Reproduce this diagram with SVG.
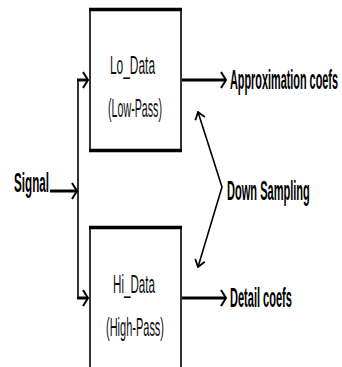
<svg xmlns="http://www.w3.org/2000/svg" width="342" height="367" viewBox="0 0 342 367">
  <style>
    .edge-v { stroke: #000; stroke-width: 1.6; fill: none; }
    .edge-h { stroke: #000; stroke-width: 3.5; fill: none; }
    .wire { stroke: #000; stroke-width: 3; fill: none; }
    .thin { stroke: #000; stroke-width: 1.6; fill: none; }
    .box-label { font-family: "Liberation Sans", Arial, sans-serif; font-size: 26px; fill: #111; }
    .tag { font-family: "Liberation Sans", Arial, sans-serif; font-size: 28px; font-weight: bold; fill: #000; }
  </style>
  <defs>
    <!-- tall, narrow open arrowhead -->
    <marker id="chev" viewBox="0 0 10 18" refX="8.5" refY="9" markerWidth="10" markerHeight="18" markerUnits="userSpaceOnUse" orient="auto-start-reverse">
      <path d="M3.5,1 L8.5,9 L3.5,17" fill="none" stroke="#000" stroke-width="2"/>
    </marker>
    <marker id="chev-sm" viewBox="0 0 10 12" refX="9" refY="6" markerWidth="10" markerHeight="12" markerUnits="userSpaceOnUse" orient="auto-start-reverse">
      <path d="M2,1 L9,6 L2,11" fill="none" stroke="#000" stroke-width="1.8"/>
    </marker>
  </defs>
  <rect width="342" height="367" fill="#fff"/>

  <!-- Low-pass filter block (labels set in a condensed width) -->
  <g id="lo-data">
    <line class="edge-v" x1="90" y1="9" x2="90" y2="151"/>
    <line class="edge-v" x1="181" y1="9" x2="181" y2="151"/>
    <line class="edge-h" x1="89" y1="9.5" x2="182" y2="9.5"/>
    <line class="edge-h" x1="89" y1="150.5" x2="182" y2="150.5"/>
    <text class="box-label" transform="translate(110,74) scale(0.458,1)">Lo_Data</text>
    <text class="box-label" transform="translate(108,117) scale(0.411,1)">(Low-Pass)</text>
  </g>

  <!-- High-pass filter block -->
  <g id="hi-data">
    <line class="edge-v" x1="90" y1="227" x2="90" y2="367"/>
    <line class="edge-v" x1="181" y1="227" x2="181" y2="367"/>
    <line class="edge-h" x1="89" y1="227.5" x2="182" y2="227.5"/>
    <text class="box-label" transform="translate(113,293) scale(0.447,1)">Hi_Data</text>
    <text class="box-label" transform="translate(106,336) scale(0.423,1)">(High-Pass)</text>
  </g>

  <g id="signal">
    <text class="tag" transform="translate(14,192) scale(0.417,1)">Signal</text>
  </g>

  <g id="approx">
    <text class="tag" transform="translate(230,89) scale(0.388,1)">Approximation coefs</text>
  </g>

  <g id="detail">
    <text class="tag" transform="translate(230,307) scale(0.394,1)">Detail coefs</text>
  </g>

  <g id="down-sampling">
    <text class="tag" transform="translate(227,200) scale(0.395,1)">Down Sampling</text>
  </g>

  <!-- Connectors -->
  <g id="connectors">
    <line class="wire" x1="50" y1="191" x2="77" y2="191" marker-end="url(#chev)"/>
    <line class="thin" x1="78" y1="80" x2="78" y2="298"/>
    <line class="wire" x1="77" y1="80" x2="88" y2="80" marker-end="url(#chev)"/>
    <line class="wire" x1="77" y1="298" x2="88" y2="298" marker-end="url(#chev)"/>
    <line class="wire" x1="182" y1="80" x2="226" y2="80" marker-end="url(#chev)"/>
    <line class="wire" x1="182" y1="298" x2="226" y2="298" marker-end="url(#chev)"/>
    <polyline class="thin" points="198,112 222,187 198,267" marker-start="url(#chev-sm)" marker-end="url(#chev-sm)"/>
  </g>
</svg>
